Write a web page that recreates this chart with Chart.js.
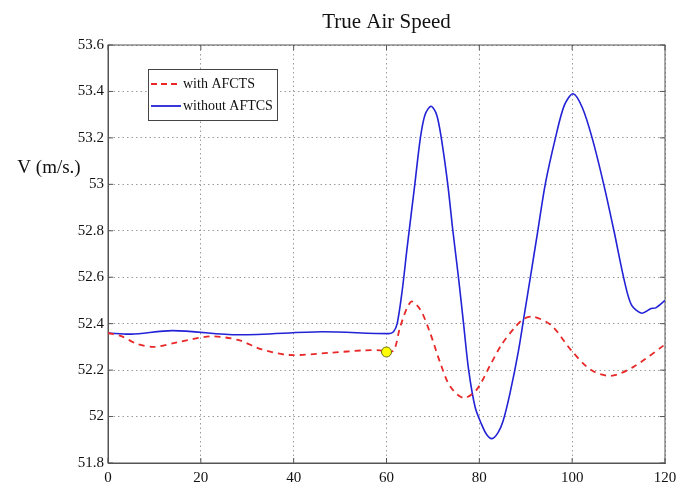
<!DOCTYPE html>
<html>
<head>
<meta charset="utf-8">
<title>True Air Speed</title>
<script src="https://cdn.jsdelivr.net/npm/chart.js@4.4.1/dist/chart.umd.min.js"></script>
<style>
   html, body { margin: 0; padding: 0; background: #fff; }
</style>
</head>
<body>
<canvas id="tasChart" width="683" height="491"></canvas>
<script>
/* ---------------------------------------------------------------------------------*/
/* Data */
/* ---------------------------------------------------------------------------------*/

const chartTitle = 'True Air Speed';
const yAxisTitle = 'V (m/s.)';
const seriesNames = ['with AFCTS', 'without AFTCS'];

// with AFCTS (red dashed)
const timeWith = [0, 3, 6, 9.8, 15, 22, 28, 33, 39, 48, 55, 58.6, 60, 61.6, 63, 65.3, 67.3, 69.4,
   71.6, 73.7, 76.6, 79.4, 82.3, 84.8, 87.7, 89.5, 91.6, 95.5, 99.8, 104.1, 108.4, 113.3, 120];
const speedWith = [52.36, 52.345, 52.315, 52.30, 52.32, 52.345, 52.33, 52.29, 52.265, 52.275, 52.285, 52.285,
   52.278, 52.285, 52.39, 52.495, 52.46, 52.36, 52.23, 52.13, 52.08, 52.115, 52.22, 52.31, 52.385, 52.42,
   52.43, 52.393, 52.285, 52.2, 52.175, 52.215, 52.31];

// without AFTCS (blue solid)
const timeWithout = [0, 5, 14, 28, 46, 60.5, 61.5, 62.3, 63.4, 64.4, 66.1, 67.3, 68.3, 69.6, 70.8,
   71.8, 73.2, 74.3, 75.5, 76.6, 77.7, 79.1, 80.4, 81.5, 82.7, 84, 85.1, 86.6, 88.4, 89.7, 91, 92.6, 94.2, 96.4,
   98.3, 100.2, 102.2, 104.3, 106.8, 109, 111.3, 112.8, 115, 117, 118, 120];
const speedWithout = [52.36, 52.355, 52.37, 52.352, 52.365, 52.357, 52.365, 52.40, 52.545, 52.72, 53.0,
   53.2, 53.30, 53.336, 53.30, 53.2, 53.0, 52.8, 52.6, 52.4, 52.2, 52.04, 51.97, 51.925, 51.905, 51.93, 51.98,
   52.10, 52.28, 52.44, 52.6, 52.8, 53.0, 53.2, 53.34, 53.39, 53.33, 53.2, 53.0, 52.8, 52.58, 52.48, 52.445,
   52.465, 52.468, 52.5];

// switch-over point
const markerTime = [60];
const markerSpeed = [52.278];

const xTicks = [0, 20, 40, 60, 80, 100, 120];
const yTicks = [51.8, 52, 52.2, 52.4, 52.6, 52.8, 53, 53.2, 53.4, 53.6];

/* ---------------------------------------------------------------------------------*/
/* Helpers */
/* ---------------------------------------------------------------------------------*/

const toPoints = (xs, ys) => xs.map((t, i) => ({ x: t, y: ys[i] }));
const serif = '"Liberation Serif", "Times New Roman", serif';
const redColor = '#e82828';
const blueColor = '#2222d6';

// Box, inward ticks, title, y label and legend - MATLAB look
const matlabFrame = {
   id: 'matlabFrame',
   beforeDatasetsDraw(chart) {
      const { ctx, chartArea: a, scales: { x, y } } = chart;
      ctx.save();
      ctx.strokeStyle = '#555';
      ctx.lineWidth = 1;
      ctx.strokeRect(a.left, a.top, a.right - a.left, a.bottom - a.top);
      ctx.beginPath();
      x.ticks.forEach(t => {
         const px = x.getPixelForValue(t.value);
         ctx.moveTo(px, a.bottom); ctx.lineTo(px, a.bottom - 5);
         ctx.moveTo(px, a.top); ctx.lineTo(px, a.top + 5);
      });
      y.ticks.forEach(t => {
         const py = y.getPixelForValue(t.value);
         ctx.moveTo(a.left, py); ctx.lineTo(a.left + 5, py);
         ctx.moveTo(a.right, py); ctx.lineTo(a.right - 5, py);
      });
      ctx.stroke();
      ctx.restore();
   },
   afterDraw(chart) {
      const { ctx, chartArea: a } = chart;
      ctx.save();

      // title
      ctx.fillStyle = '#111';
      ctx.font = '21px ' + serif;
      ctx.textAlign = 'center';
      ctx.textBaseline = 'middle';
      ctx.fillText(chartTitle, (a.left + a.right) / 2, 22);

      // y axis label (horizontal, like the original)
      ctx.font = '19px ' + serif;
      ctx.fillText(yAxisTitle, 49, 168);

      // legend
      const lx = a.left + 40, ly = a.top + 24, lw = 129, lh = 51;
      ctx.fillStyle = '#fff';
      ctx.fillRect(lx, ly, lw, lh);
      ctx.strokeStyle = '#444';
      ctx.lineWidth = 1;
      ctx.strokeRect(lx + 0.5, ly + 0.5, lw, lh);

      const rows = [
         { text: seriesNames[0], color: redColor, dash: [6, 4], y: ly + 15 },
         { text: seriesNames[1], color: blueColor, dash: [], y: ly + 37 }
      ];
      ctx.font = '14px ' + serif;
      ctx.textAlign = 'left';
      rows.forEach(r => {
         ctx.beginPath();
         ctx.setLineDash(r.dash);
         ctx.strokeStyle = r.color;
         ctx.lineWidth = 1.8;
         ctx.moveTo(lx + 3, r.y);
         ctx.lineTo(lx + 33, r.y);
         ctx.stroke();
         ctx.fillStyle = '#111';
         ctx.fillText(r.text, lx + 35, r.y);
      });
      ctx.restore();
   }
};

/* ---------------------------------------------------------------------------------*/
/* Chart */
/* ---------------------------------------------------------------------------------*/

const ctx = document.querySelector('#tasChart');

const data = {
   datasets: [
      {
         label: 'switch',
         data: toPoints(markerTime, markerSpeed),
         showLine: false,
         pointRadius: 5,
         pointBackgroundColor: '#ffff00',
         pointBorderColor: '#6b6b10',
         pointBorderWidth: 1
      },
      {
         label: seriesNames[0],
         data: toPoints(timeWith, speedWith),
         borderColor: redColor,
         borderWidth: 1.8,
         borderDash: [6, 5],
         pointRadius: 0,
         tension: 0.3
      },
      {
         label: seriesNames[1],
         data: toPoints(timeWithout, speedWithout),
         borderColor: blueColor,
         borderWidth: 1.6,
         pointRadius: 0,
         tension: 0.3
      }
   ]
};

const config = {
   type: 'line',
   data: data,
   options: {
      responsive: false,
      animation: false,
      devicePixelRatio: 1,
      layout: { padding: { top: 45, right: 18, left: 0, bottom: 0 } },
      plugins: {
         legend: { display: false },
         title: { display: false },
         tooltip: { enabled: false }
      },
      scales: {
         x: {
            type: 'linear',
            min: 0,
            max: 120,
            afterBuildTicks: scale => { scale.ticks = xTicks.map(v => ({ value: v })); },
            afterFit: scale => { scale.height = 28; },
            ticks: {
               padding: 6,
               color: '#111',
               font: { family: serif, size: 15 },
               maxRotation: 0,
               callback: v => String(v)
            },
            grid: { color: '#9a9a9a', lineWidth: 1, drawTicks: false },
            border: { color: '#555', width: 1, dash: [1.5, 3] }
         },
         y: {
            min: 51.8,
            max: 53.6,
            afterBuildTicks: scale => { scale.ticks = yTicks.map(v => ({ value: v })); },
            afterFit: scale => { scale.width = 108; },
            ticks: {
               padding: 4,
               color: '#111',
               font: { family: serif, size: 15 },
               callback: v => String(v)
            },
            grid: { color: '#9a9a9a', lineWidth: 1, drawTicks: false },
            border: { color: '#555', width: 1, dash: [1.5, 3] }
         }
      }
   },
   plugins: [matlabFrame]
};

const tasChart = new Chart(ctx, config);
</script>
</body>
</html>
